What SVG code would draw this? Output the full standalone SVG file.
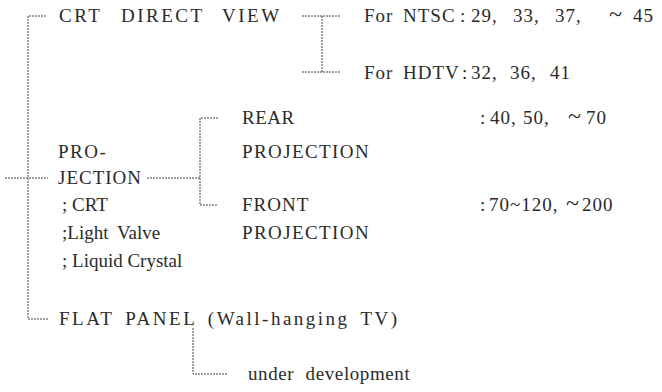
<svg xmlns="http://www.w3.org/2000/svg" width="662" height="392" viewBox="0 0 662 392">
<style>
text{font-family:"Liberation Serif","Times New Roman",Times,"DejaVu Serif","Noto Serif",serif;fill:#2a2a2a;font-size:19px;}
.w{letter-spacing:2.5px;word-spacing:4px;}
.n{letter-spacing:1px;}
.t{font-size:24px;}
.c line,.c polyline{stroke:#444;stroke-width:1;stroke-dasharray:2 1;fill:none;}
</style>
<rect width="662" height="392" fill="#fff"/>
<g class="c" id="connectors">
<polyline points="46,16 28,16 28,319 48,319"/>
<line x1="5" y1="178" x2="48" y2="178"/>
<line x1="302" y1="16" x2="340" y2="16"/>
<line x1="322" y1="16" x2="322" y2="72"/>
<line x1="302" y1="72" x2="340" y2="72"/>
<line x1="147" y1="178" x2="200" y2="178"/>
<polyline points="218,118 200,118 200,205 218,205"/>
<polyline points="193,328 193,374 228,374"/>
</g>
<g id="crt"><text class="w" y="22"><tspan x="59">CRT</tspan><tspan x="121">DIRECT</tspan><tspan x="222">VIEW</tspan></text></g>
<g id="ntsc"><text class="n" y="22"><tspan x="364">For</tspan><tspan x="403">NTSC</tspan><tspan x="460">:</tspan><tspan x="471">29,</tspan><tspan x="513">33,</tspan><tspan x="555">37,</tspan><tspan class="t" x="609">~</tspan><tspan x="633">45</tspan></text></g>
<g id="hdtv"><text class="n" y="79"><tspan x="364">For</tspan><tspan x="403">HDTV</tspan><tspan x="462">:</tspan><tspan x="471">32,</tspan><tspan x="510">36,</tspan><tspan x="550">41</tspan></text></g>
<g id="projection"><text x="58" y="158" style="letter-spacing:1.5px">PRO-</text><text x="58" y="184" style="letter-spacing:1px">JECTION</text><text x="62" y="211">; CRT</text><text y="239"><tspan x="62">;Light</tspan><tspan x="117">Valve</tspan></text><text x="62" y="267">; Liquid Crystal</text></g>
<g id="rear"><text x="242" y="124" style="letter-spacing:0.5px">REAR</text><text x="242" y="158" style="letter-spacing:1.4px">PROJECTION</text><text class="n" y="124"><tspan x="480">:</tspan><tspan x="490">40,</tspan><tspan x="523">50,</tspan><tspan class="t" x="568">~</tspan><tspan x="586">70</tspan></text></g>
<g id="front"><text x="242" y="211" style="letter-spacing:1px">FRONT</text><text x="242" y="239" style="letter-spacing:1.4px">PROJECTION</text><text class="n" y="211"><tspan x="480">:</tspan><tspan x="489">70~120,</tspan><tspan class="t" x="566">~</tspan><tspan x="582">200</tspan></text></g>
<g id="flat"><text class="w" x="59" y="325">FLAT PANEL (Wall-hanging TV)</text></g>
<g id="dev"><text x="248" y="380" style="letter-spacing:0.6px;word-spacing:6px">under development</text></g>
</svg>
